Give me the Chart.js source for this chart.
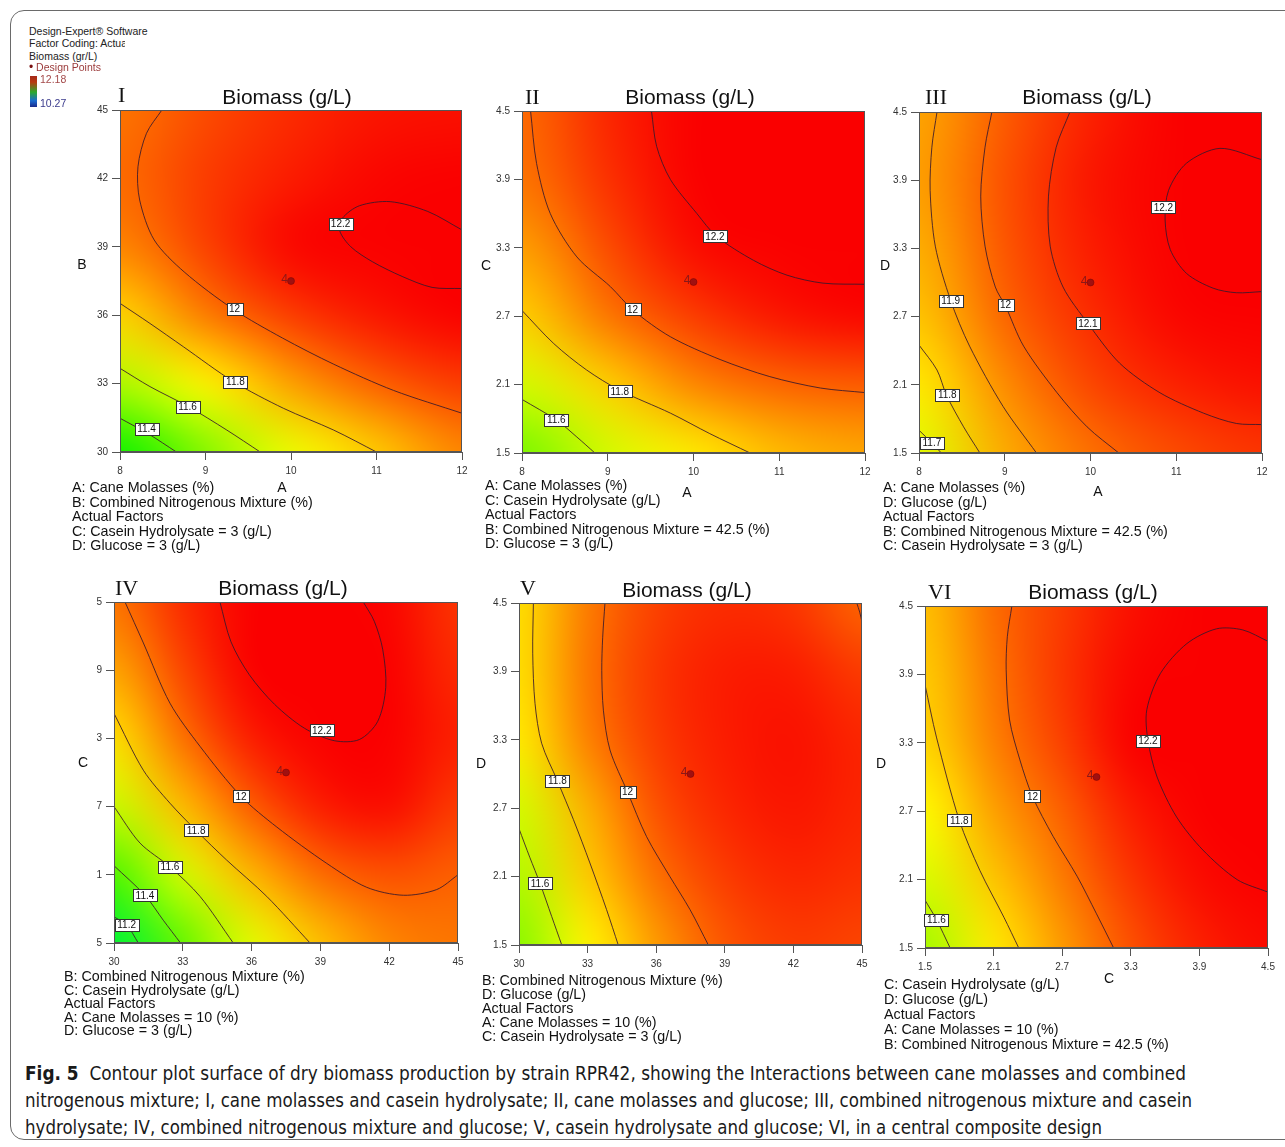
<!DOCTYPE html>
<html><head><meta charset="utf-8">
<script src="https://cdn.jsdelivr.net/npm/chart.js@4.4.1/dist/chart.umd.min.js"></script>
<style>
html,body{margin:0;padding:0;background:#fff;}
body{width:1285px;height:1147px;overflow:hidden;position:relative;font-family:"Liberation Sans",Arial,sans-serif;color:#111;}
.abs{position:absolute;white-space:nowrap;}
.frame{position:absolute;left:10px;top:10px;width:1300px;height:1130px;border:1.5px solid #6a6a6a;border-radius:14px;box-sizing:border-box;}
.leg{position:absolute;white-space:nowrap;font-size:10.5px;line-height:12px;color:#222;}
.num{position:absolute;white-space:nowrap;font-family:"Liberation Serif","Times New Roman",serif;font-size:22px;line-height:22px;color:#111;}
.ttl{position:absolute;white-space:nowrap;font-size:21px;line-height:24px;color:#111;transform:translate(-50%,-50%);}
.axl{position:absolute;white-space:nowrap;font-size:14px;line-height:16px;color:#111;transform:translate(-50%,-50%);}
.fac{position:absolute;white-space:nowrap;font-size:14.3px;color:#111;}
.cap{position:absolute;white-space:nowrap;font-family:"Liberation Sans Narrow","DejaVu Sans Condensed","Liberation Sans",sans-serif;font-size:19px;line-height:22px;color:#1a1a1a;transform-origin:0 50%;}
</style></head><body>
<div class="frame"></div>

<script>
// ---------------- DATA ----------------
const colorMin = 10.27, colorMax = 12.18;

const ticksA = [8, 9, 10, 11, 12];
const ticksB = [30, 33, 36, 39, 42, 45];
const ticksCD = [1.5, 2.1, 2.7, 3.3, 3.9, 4.5];
const labelsA = ['8', '9', '10', '11', '12'];
const labelsB = ['30', '33', '36', '39', '42', '45'];
const labelsCD = ['1.5', '2.1', '2.7', '3.3', '3.9', '4.5'];
const labelsIVy = ['5', '1', '7', '3', '9', '5'];

// Surface values at the tick grid (rows = y ticks bottom->top, cols = x ticks)
const gridI = [
  [11.25, 11.47, 11.67, 11.80, 11.93],
  [11.55, 11.72, 11.88, 12.00, 12.07],
  [11.78, 11.95, 12.07, 12.14, 12.18],
  [11.93, 12.06, 12.17, 12.21, 12.23],
  [11.98, 12.07, 12.13, 12.17, 12.18],
  [11.96, 12.04, 12.10, 12.14, 12.15]
];
const gridII = [
  [11.45, 11.62, 11.74, 11.83, 11.87],
  [11.62, 11.79, 11.93, 11.99, 12.01],
  [11.79, 11.96, 12.07, 12.14, 12.17],
  [11.88, 12.04, 12.16, 12.24, 12.26],
  [11.96, 12.09, 12.22, 12.27, 12.30],
  [11.98, 12.11, 12.24, 12.29, 12.32]
];
const gridIII = [
  [11.64, 11.86, 11.97, 12.04, 12.08],
  [11.74, 11.92, 12.05, 12.12, 12.15],
  [11.81, 11.99, 12.10, 12.17, 12.20],
  [11.85, 12.02, 12.13, 12.20, 12.23],
  [11.88, 12.03, 12.14, 12.20, 12.22],
  [11.87, 12.01, 12.12, 12.18, 12.19]
];
const gridIV = [
  [11.12, 11.41, 11.65, 11.82, 11.93, 11.96],
  [11.37, 11.62, 11.84, 11.98, 12.03, 12.00],
  [11.60, 11.83, 12.01, 12.13, 12.16, 12.07],
  [11.76, 11.97, 12.13, 12.20, 12.18, 12.12],
  [11.87, 12.05, 12.20, 12.25, 12.19, 12.10],
  [11.96, 12.10, 12.22, 12.24, 12.17, 12.08]
];
const gridV = [
  [11.48, 11.72, 11.89, 12.02, 12.07, 12.05],
  [11.56, 11.80, 11.97, 12.07, 12.11, 12.09],
  [11.62, 11.85, 12.03, 12.11, 12.14, 12.11],
  [11.74, 11.94, 12.07, 12.13, 12.15, 12.11],
  [11.76, 11.96, 12.08, 12.13, 12.13, 12.07],
  [11.76, 11.95, 12.06, 12.10, 12.08, 11.99]
];
const gridVI = [
  [11.53, 11.74, 11.89, 12.03, 12.12, 12.16],
  [11.63, 11.81, 11.95, 12.08, 12.16, 12.21],
  [11.71, 11.88, 12.00, 12.13, 12.22, 12.25],
  [11.78, 11.94, 12.06, 12.18, 12.24, 12.27],
  [11.80, 11.96, 12.08, 12.17, 12.23, 12.25],
  [11.82, 11.98, 12.07, 12.15, 12.18, 12.18]
];

// Contour lines, points [x, y]
const I_122 = [[12,39.74],[11.6,40.55],[11.16,40.98],[10.8,40.8],[10.6,40.25],[10.57,39.7],[10.7,39.0],[10.95,38.35],[11.3,37.7],[11.65,37.22],[12,37.17]];
const I_120 = [[8.49,45],[8.31,43.98],[8.21,42.51],[8.23,41.05],[8.4,39.3],[8.75,37.9],[9.33,36.25],[9.9,35.0],[10.5,33.85],[11.2,32.7],[12,31.7]];
const I_118 = [[8,36.52],[8.35,35.64],[8.74,34.62],[9.33,33.08],[9.91,31.92],[10.5,30.96],[11.0,30.0]];
const I_116 = [[8,33.67],[8.35,32.87],[8.8,31.99],[9.25,30.96],[9.64,30]];
const I_114 = [[8,31.48],[8.33,30.8],[8.66,30]];
const I_labels = [['12.2',10.58,40.0],['12',9.34,36.27],['11.8',9.35,33.06],['11.6',8.79,31.99],['11.4',8.31,31.0]];

const II_122 = [[9.51,4.5],[9.57,4.19],[9.73,3.9],[10.04,3.6],[10.27,3.4],[10.7,3.19],[11.09,3.06],[11.51,2.99],[12,2.98]];
const II_120 = [[8.1,4.5],[8.17,4.04],[8.33,3.6],[8.64,3.22],[9.03,2.96],[9.3,2.75],[9.73,2.52],[10.31,2.32],[10.89,2.17],[11.48,2.07],[12,2.03]];
const II_118 = [[8,2.75],[8.37,2.46],[8.75,2.23],[9.14,2.05],[9.73,1.85],[10.19,1.67],[10.66,1.5]];
const II_116 = [[8,1.97],[8.4,1.79],[8.64,1.64],[8.85,1.5]];
const II_labels = [['12.2',10.25,3.4],['12',9.29,2.76],['11.8',9.14,2.04],['11.6',8.4,1.79]];

const III_122 = [[12,4.08],[11.51,4.18],[11.12,4.05],[10.91,3.81],[10.87,3.55],[10.93,3.29],[11.12,3.08],[11.43,2.95],[11.7,2.91],[12,2.92]];
const III_121 = [[9.76,4.5],[9.6,4.19],[9.51,3.76],[9.53,3.32],[9.68,2.96],[9.97,2.64],[10.34,2.29],[10.81,2.03],[11.32,1.85],[11.7,1.76],[12,1.75]];
const III_120 = [[8.85,4.5],[8.77,4.19],[8.72,3.76],[8.77,3.32],[8.89,2.96],[9.01,2.79],[9.22,2.44],[9.61,2.03],[9.96,1.73],[10.33,1.5]];
const III_119 = [[8.21,4.5],[8.15,4.19],[8.13,3.81],[8.19,3.32],[8.37,2.84],[8.59,2.44],[8.98,1.91],[9.37,1.5]];
const III_118 = [[8,2.45],[8.21,2.23],[8.32,2.01],[8.52,1.73],[8.71,1.5]];
const III_117 = [[8,1.7],[8.15,1.59],[8.26,1.5]];
const III_labels = [['12.2',10.85,3.66],['12.1',9.97,2.64],['12',9.01,2.8],['11.9',8.37,2.84],['11.8',8.33,2.01],['11.7',8.15,1.59]];

const IV_122 = [[34.62,4.5],[35.1,4.15],[35.9,3.86],[37.0,3.6],[38.3,3.39],[39.6,3.28],[40.7,3.29],[41.5,3.45],[41.85,3.75],[41.72,4.08],[41.35,4.33],[40.87,4.5]];
const IV_120 = [[30.48,4.5],[31.28,4.14],[32.44,3.61],[33.75,3.23],[35.54,2.79],[37.1,2.52],[39.28,2.2],[41.02,1.99],[42.62,1.92],[44.07,1.97],[45,2.1]];
const IV_118 = [[30,3.52],[31.28,3.02],[32.44,2.73],[33.58,2.49],[34.91,2.23],[36.66,1.91],[38.55,1.5]];
const IV_116 = [[30,2.7],[31.13,2.38],[32.44,2.17],[33.75,1.91],[35.2,1.5]];
const IV_114 = [[30,2.18],[31.35,1.92],[32.15,1.7],[32.9,1.5]];
const IV_112 = [[30,1.73],[30.55,1.66],[31.06,1.5]];
const IV_labels = [['12.2',39.06,3.37],['12',35.54,2.79],['11.8',33.58,2.49],['11.6',32.44,2.17],['11.4',31.35,1.92],['11.2',30.55,1.66]];

const V_120a = [[33.76,4.5],[33.66,4.2],[33.62,3.91],[33.69,3.56],[33.98,3.21],[34.75,2.84],[35.58,2.45],[36.6,2.1],[37.48,1.81],[38.28,1.5]];
const V_120b = [[44.77,4.5],[44.9,4.42],[45,4.33]];
const V_118 = [[30.63,4.5],[30.6,4.06],[30.7,3.62],[30.99,3.27],[31.68,2.94],[32.38,2.6],[33.1,2.22],[33.83,1.81],[34.34,1.5]];
const V_116 = [[30,2.52],[30.47,2.27],[30.92,2.04],[31.43,1.75],[31.87,1.5]];
const V_labels = [['11.8',31.68,2.94],['12',34.75,2.84],['11.6',30.92,2.04]];

const VI_122 = [[4.5,4.19],[4.28,4.29],[4.05,4.3],[3.79,4.17],[3.56,3.91],[3.44,3.59],[3.45,3.32],[3.53,3.0],[3.7,2.65],[3.93,2.36],[4.23,2.1],[4.5,1.99]];
const VI_120 = [[2.26,4.5],[2.22,4.23],[2.21,3.94],[2.24,3.5],[2.33,3.15],[2.44,2.83],[2.62,2.48],[2.83,2.13],[3.0,1.8],[3.15,1.5]];
const VI_118 = [[1.5,3.81],[1.6,3.35],[1.8,2.62],[1.98,2.18],[2.19,1.77],[2.32,1.5]];
const VI_116 = [[1.5,1.92],[1.6,1.75],[1.72,1.5]];
const VI_labels = [['12.2',3.45,3.32],['12',2.44,2.83],['11.8',1.8,2.62],['11.6',1.6,1.75]];

// design points [x, y, count]
const designI = [10, 37.5, '4'];
const designII = [10, 3, '4'];
const designIII = [10, 3, '4'];
const designIV = [37.5, 3, '4'];
const designV = [37.5, 3, '4'];
const designVI = [3, 3, '4'];

// ---------------- PANELS ----------------
const panels = [
  {id:'I',  box:{L:120,R:462,T:110,B:452}, xs:ticksA, xl:labelsA, ys:ticksB,  yl:labelsB,  grid:gridI,   lines:[I_122,I_120,I_118,I_116,I_114], labels:I_labels, dp:designI},
  {id:'II', box:{L:522,R:865,T:111,B:453}, xs:ticksA, xl:labelsA, ys:ticksCD, yl:labelsCD, grid:gridII,  lines:[II_122,II_120,II_118,II_116], labels:II_labels, dp:designII},
  {id:'III',box:{L:919,R:1262,T:112,B:453},xs:ticksA, xl:labelsA, ys:ticksCD, yl:labelsCD, grid:gridIII, lines:[III_122,III_121,III_120,III_119,III_118,III_117], labels:III_labels, dp:designIII},
  {id:'IV', box:{L:114,R:458,T:602,B:943}, xs:ticksB, xl:labelsB, ys:ticksCD, yl:labelsIVy,grid:gridIV,  lines:[IV_122,IV_120,IV_118,IV_116,IV_114,IV_112], labels:IV_labels, dp:designIV},
  {id:'V',  box:{L:519,R:862,T:603,B:945}, xs:ticksB, xl:labelsB, ys:ticksCD, yl:labelsCD, grid:gridV,   lines:[V_120a,V_120b,V_118,V_116], labels:V_labels, dp:designV},
  {id:'VI', box:{L:925,R:1268,T:606,B:948},xs:ticksCD,xl:labelsCD,ys:ticksCD, yl:labelsCD, grid:gridVI,  lines:[VI_122,VI_120,VI_118,VI_116], labels:VI_labels, dp:designVI}
];

const stops = [[0,[0,0,255]],[0.25,[0,255,255]],[0.5,[0,240,0]],[0.75,[255,255,0]],[1,[250,0,0]]];
function colorFor(v){
  let t = (v - colorMin) / (colorMax - colorMin);
  t = Math.max(0, Math.min(1, t));
  for (let k = 1; k < stops.length; k++){
    if (t <= stops[k][0]){
      const a = stops[k-1], b = stops[k];
      const f = (t - a[0]) / (b[0] - a[0]);
      return [0,1,2].map(c => Math.round(a[1][c] + (b[1][c] - a[1][c]) * f));
    }
  }
  return stops[stops.length-1][1];
}

const FONT = '"Liberation Sans", Arial, sans-serif';

function makePanel(P){
  const padL = 60, padT = 12, padR = 16, axH = 42;
  const b = P.box;
  const div = document.createElement('div');
  div.style.cssText = `position:absolute;left:${b.L-padL}px;top:${b.T-padT}px;width:${b.R-b.L+padL+padR}px;height:${b.B-b.T+padT+axH}px;`;
  const cv = document.createElement('canvas');
  div.appendChild(cv);
  document.body.appendChild(div);

  const heat = {
    id: 'heat' + P.id,
    beforeDatasetsDraw(chart){
      const nx = P.xs.length, ny = P.ys.length;
      const off = document.createElement('canvas');
      off.width = nx; off.height = ny;
      const octx = off.getContext('2d');
      const img = octx.createImageData(nx, ny);
      for (let r = 0; r < ny; r++){
        const row = P.grid[ny - 1 - r];
        for (let i = 0; i < nx; i++){
          const c = colorFor(row[i]);
          const k = (r * nx + i) * 4;
          img.data[k] = c[0]; img.data[k+1] = c[1]; img.data[k+2] = c[2]; img.data[k+3] = 255;
        }
      }
      octx.putImageData(img, 0, 0);
      const sx = chart.scales.x, sy = chart.scales.y;
      const x0 = sx.getPixelForValue(P.xs[0]), x1 = sx.getPixelForValue(P.xs[nx-1]);
      const yT = sy.getPixelForValue(P.ys[ny-1]), yB = sy.getPixelForValue(P.ys[0]);
      const cw = (x1 - x0) / (nx - 1), ch = (yB - yT) / (ny - 1);
      const ctx = chart.ctx, a = chart.chartArea;
      ctx.save();
      ctx.beginPath(); ctx.rect(a.left, a.top, a.right - a.left, a.bottom - a.top); ctx.clip();
      ctx.imageSmoothingEnabled = true;
      ctx.imageSmoothingQuality = 'high';
      ctx.drawImage(off, x0 - cw/2, yT - ch/2, cw * nx, ch * ny);
      ctx.restore();
    }
  };
  const over = {
    id: 'over' + P.id,
    afterDatasetsDraw(chart){
      const ctx = chart.ctx, a = chart.chartArea, sx = chart.scales.x, sy = chart.scales.y;
      ctx.save();
      ctx.strokeStyle = '#555'; ctx.lineWidth = 1;
      ctx.strokeRect(Math.round(a.left)+0.5, Math.round(a.top)+0.5, Math.round(a.right-a.left)-1, Math.round(a.bottom-a.top)-1);
      ctx.font = '10px ' + FONT;
      ctx.textAlign = 'center'; ctx.textBaseline = 'middle';
      P.labels.forEach(l => {
        const px = sx.getPixelForValue(l[1]), py = sy.getPixelForValue(l[2]);
        const w = Math.round(ctx.measureText(l[0]).width + 5), h = 12;
        const bx = Math.round(px - w/2) + 0.5, by = Math.round(py - h/2) + 0.5;
        ctx.fillStyle = '#fff'; ctx.fillRect(bx, by, w, h);
        ctx.strokeStyle = '#333'; ctx.strokeRect(bx, by, w, h);
        ctx.fillStyle = '#111'; ctx.fillText(l[0], px, py + 0.5);
      });
      const dx = sx.getPixelForValue(P.dp[0]), dy = sy.getPixelForValue(P.dp[1]);
      ctx.font = '12px ' + FONT; ctx.fillStyle = '#8a1818'; ctx.textAlign = 'right';
      ctx.fillText(P.dp[2], dx - 3, dy - 1);
      ctx.restore();
    }
  };

  const datasets = P.lines.map(pts => ({
    data: pts.map(p => ({x: p[0], y: p[1]})),
    showLine: true, pointRadius: 0, borderColor: 'rgba(55,25,45,0.85)', borderWidth: 1, tension: 0.3, fill: false
  }));
  datasets.push({
    data: [{x: P.dp[0], y: P.dp[1]}], showLine: false, pointRadius: 3.5,
    backgroundColor: '#a01010', borderColor: '#800000', borderWidth: 0.5
  });

  const axisCommon = (ticks, labels) => ({
    type: 'linear', min: ticks[0], max: ticks[ticks.length-1],
    afterBuildTicks: s => { s.ticks = ticks.map(v => ({value: v})); },
    ticks: { callback: (v, i) => labels[i], font: {size: 10, family: FONT}, color: '#333', autoSkip: false, maxRotation: 0 },
    grid: { drawOnChartArea: false, drawTicks: true, tickLength: 8, color: '#555', lineWidth: 1 },
    border: { display: true, color: '#555' }
  });
  const xAx = axisCommon(P.xs, P.xl); xAx.ticks.padding = 5; xAx.afterFit = s => { s.height = axH; };
  const yAx = axisCommon(P.ys, P.yl); yAx.ticks.padding = 4; yAx.afterFit = s => { s.width = padL; };

  new Chart(cv, {
    type: 'scatter',
    data: { datasets },
    options: {
      responsive: true, maintainAspectRatio: false, animation: false, events: [],
      layout: { padding: { left: 0, top: padT, right: padR, bottom: 0 } },
      plugins: { legend: { display: false }, tooltip: { enabled: false }, title: { display: false } },
      scales: { x: xAx, y: yAx }
    },
    plugins: [heat, over]
  });
}
panels.forEach(makePanel);
</script>

<!-- Legend block -->
<div class="leg" style="left:29px;top:25px;">Design-Expert® Software</div>
<div class="leg" style="left:29px;top:37px;width:96px;overflow:hidden;">Factor Coding: Actual</div>
<div class="leg" style="left:29px;top:50px;">Biomass (gr/L)</div>
<div class="leg" style="left:29px;top:61px;color:#9b3a3a;"><span style="color:#7a1010;font-size:12px;">&bull;</span> Design Points</div>
<div class="abs" style="left:30px;top:76px;width:7px;height:31px;background:linear-gradient(to bottom,#a52a1a 0%,#b83a10 20%,#2caa2c 52%,#1a6ad0 80%,#1a2a8a 100%);"></div>
<div class="leg" style="left:40px;top:73px;color:#a44a4a;">12.18</div>
<div class="leg" style="left:40px;top:97px;color:#3a3a8c;">10.27</div>

<!-- Panel numerals & titles -->
<div class="num" style="left:118px;top:84px;">I</div>
<div class="ttl" style="left:287px;top:97px;">Biomass (g/L)</div>
<div class="num" style="left:525px;top:86px;">II</div>
<div class="ttl" style="left:690px;top:97px;">Biomass (g/L)</div>
<div class="num" style="left:925px;top:86px;">III</div>
<div class="ttl" style="left:1087px;top:97px;">Biomass (g/L)</div>
<div class="num" style="left:115px;top:577px;">IV</div>
<div class="ttl" style="left:283px;top:588px;">Biomass (g/L)</div>
<div class="num" style="left:520px;top:577px;">V</div>
<div class="ttl" style="left:687px;top:590px;">Biomass (g/L)</div>
<div class="num" style="left:928px;top:581px;">VI</div>
<div class="ttl" style="left:1093px;top:592px;">Biomass (g/L)</div>

<!-- Axis letters -->
<div class="axl" style="left:82px;top:264px;">B</div>
<div class="axl" style="left:282px;top:487px;">A</div>
<div class="axl" style="left:486px;top:265px;">C</div>
<div class="axl" style="left:687px;top:492px;">A</div>
<div class="axl" style="left:885px;top:265px;">D</div>
<div class="axl" style="left:1098px;top:491px;">A</div>
<div class="axl" style="left:83px;top:762px;">C</div>
<div class="axl" style="left:481px;top:763px;">D</div>
<div class="axl" style="left:881px;top:763px;">D</div>
<div class="axl" style="left:1109px;top:978px;">C</div>

<!-- Factor texts -->
<div class="fac" style="left:72px;top:480px;line-height:14.5px;">A: Cane Molasses (%)<br>B: Combined Nitrogenous Mixture (%)<br>Actual Factors<br>C: Casein Hydrolysate = 3 (g/L)<br>D: Glucose = 3 (g/L)</div>
<div class="fac" style="left:485px;top:478px;line-height:14.5px;">A: Cane Molasses (%)<br>C: Casein Hydrolysate (g/L)<br>Actual Factors<br>B: Combined Nitrogenous Mixture = 42.5 (%)<br>D: Glucose = 3 (g/L)</div>
<div class="fac" style="left:883px;top:480px;line-height:14.5px;">A: Cane Molasses (%)<br>D: Glucose (g/L)<br>Actual Factors<br>B: Combined Nitrogenous Mixture = 42.5 (%)<br>C: Casein Hydrolysate = 3 (g/L)</div>
<div class="fac" style="left:64px;top:970px;line-height:13.6px;">B: Combined Nitrogenous Mixture (%)<br>C: Casein Hydrolysate (g/L)<br>Actual Factors<br>A: Cane Molasses = 10 (%)<br>D: Glucose = 3 (g/L)</div>
<div class="fac" style="left:482px;top:973px;line-height:14px;">B: Combined Nitrogenous Mixture (%)<br>D: Glucose (g/L)<br>Actual Factors<br>A: Cane Molasses = 10 (%)<br>C: Casein Hydrolysate = 3 (g/L)</div>
<div class="fac" style="left:884px;top:977px;line-height:15px;">C: Casein Hydrolysate (g/L)<br>D: Glucose (g/L)<br>Actual Factors<br>A: Cane Molasses = 10 (%)<br>B: Combined Nitrogenous Mixture = 42.5 (%)</div>

<!-- Caption -->
<div class="cap" data-w="1161" style="left:25px;top:1062px;"><b>Fig. 5</b>&nbsp; Contour plot surface of dry biomass production by strain RPR42, showing the Interactions between cane molasses and combined</div>
<div class="cap" data-w="1167" style="left:25px;top:1089px;">nitrogenous mixture; I, cane molasses and casein hydrolysate; II, cane molasses and glucose; III, combined nitrogenous mixture and casein</div>
<div class="cap" data-w="1077" style="left:25px;top:1116px;">hydrolysate; IV, combined nitrogenous mixture and glucose; V, casein hydrolysate and glucose; VI, in a central composite design</div>
<script>
document.querySelectorAll('.cap').forEach(el => {
  const w = el.getBoundingClientRect().width;
  const target = parseFloat(el.dataset.w);
  if (w > 0) el.style.transform = 'scaleX(' + (target / w).toFixed(4) + ')';
});
</script>
</body></html>
